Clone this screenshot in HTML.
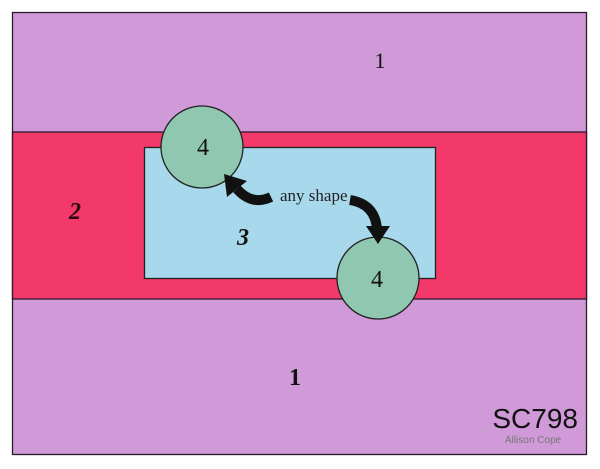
<!DOCTYPE html>
<html><head><meta charset="utf-8"><style>
html,body{margin:0;padding:0;background:#fff;}
svg{display:block;}
</style></head><body>
<svg width="600" height="469" viewBox="0 0 600 469" xmlns="http://www.w3.org/2000/svg">
<rect x="0" y="0" width="600" height="469" fill="#ffffff"/>
<rect x="12.5" y="12.5" width="574" height="442" fill="#D09AD8" stroke="#2a1a2a" stroke-width="1.3"/>
<rect x="12.5" y="132" width="574" height="167" fill="#F2396A" stroke="#2a1a2a" stroke-width="1.3"/>
<rect x="144.5" y="147.5" width="291" height="131" fill="#A8D8EC" stroke="#222" stroke-width="1.3"/>
<circle cx="202" cy="147" r="41" fill="#8FC7B0" stroke="#222" stroke-width="1.3"/>
<circle cx="378" cy="278" r="41" fill="#8FC7B0" stroke="#222" stroke-width="1.3"/>
<g font-family="'Liberation Serif', serif" fill="#111">
<text x="380" y="68" font-size="22" text-anchor="middle">1</text>
<text x="295" y="385" font-size="24" font-weight="bold" text-anchor="middle">1</text>
<text x="75" y="219" font-size="24" font-style="italic" font-weight="bold" text-anchor="middle" fill="#2a0a10">2</text>
<text x="243" y="245" font-size="24" font-style="italic" font-weight="bold" text-anchor="middle">3</text>
<text x="203" y="155" font-size="24" text-anchor="middle">4</text>
<text x="377" y="287" font-size="24" text-anchor="middle">4</text>
<text x="280" y="201" font-size="17" fill="#222">any shape</text>
</g>
<path d="M271 197 Q252 206 237 189" fill="none" stroke="#111" stroke-width="10"/>
<polygon points="224,174 227,197 247,181" fill="#111"/>
<path d="M350 200 Q375 204 377 229" fill="none" stroke="#111" stroke-width="10"/>
<polygon points="378,244 366,226 390,226" fill="#111"/>
<text x="578" y="428" font-family="'Liberation Sans', sans-serif" font-size="28" text-anchor="end" fill="#111">SC798</text>
<text x="533" y="443" font-family="'Liberation Sans', sans-serif" font-size="10" text-anchor="middle" fill="#777">Allison Cope</text>
</svg>
</body></html>
